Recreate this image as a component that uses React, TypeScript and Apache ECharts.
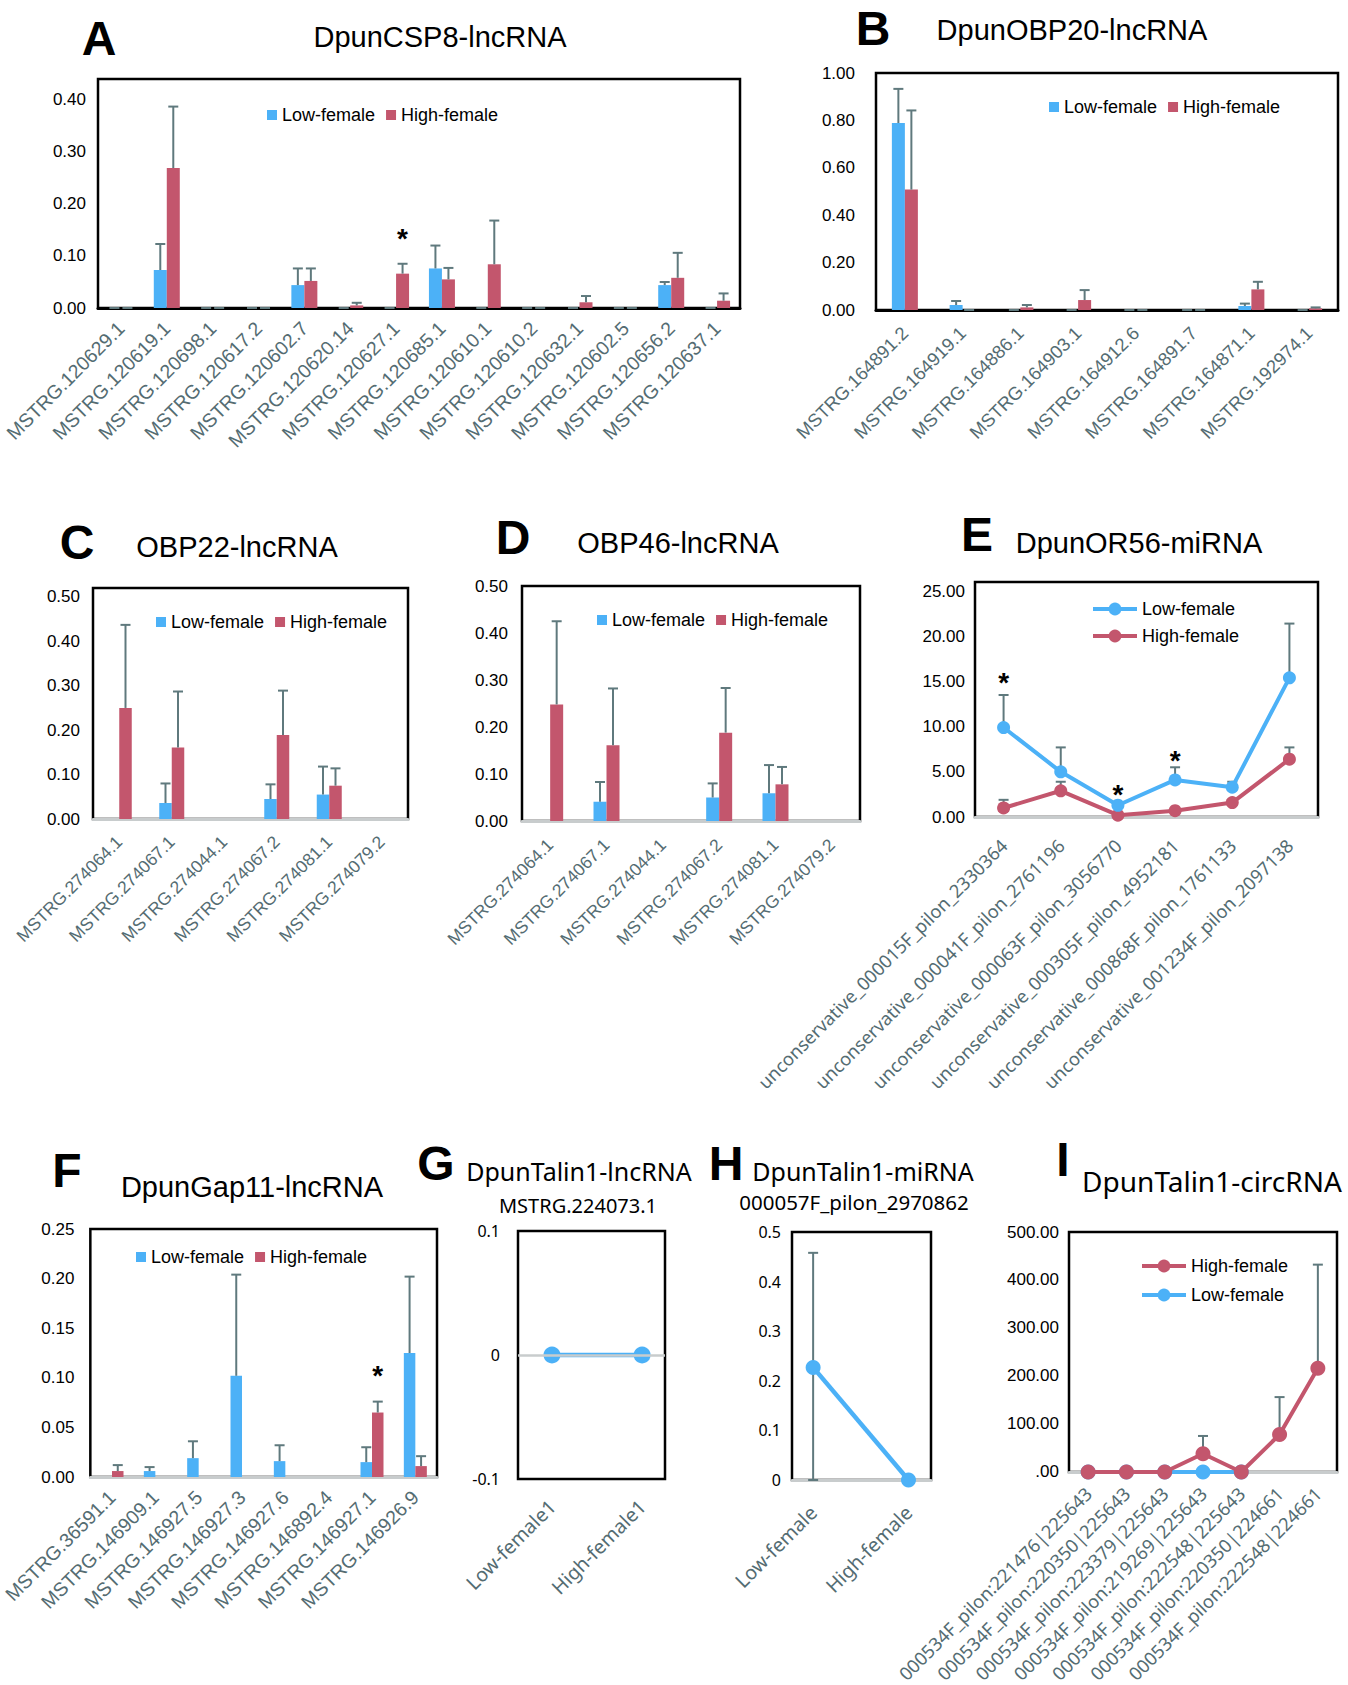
import React, { useEffect, useRef } from "react";
import * as echarts from "echarts";

// ---------------- data ----------------
// A  DpunCSP8-lncRNA
const aCategories = [
  "MSTRG.120629.1", "MSTRG.120619.1", "MSTRG.120698.1", "MSTRG.120617.2", "MSTRG.120602.7",
  "MSTRG.120620.14", "MSTRG.120627.1", "MSTRG.120685.1", "MSTRG.120610.1", "MSTRG.120610.2",
  "MSTRG.120632.1", "MSTRG.120602.5", "MSTRG.120656.2", "MSTRG.120637.1",
];
const aLow = [0, 0.073, 0, 0, 0.044, 0, 0, 0.076, 0, 0, 0, 0, 0.044, 0];
const aLowErr = [0, 0.05, 0, 0, 0.032, 0, 0, 0.044, 0, 0, 0, 0, 0.006, 0];
const aHigh = [0, 0.269, 0, 0, 0.052, 0.005, 0.066, 0.055, 0.084, 0, 0.011, 0, 0.058, 0.014];
const aHighErr = [0, 0.118, 0, 0, 0.024, 0.005, 0.019, 0.022, 0.084, 0, 0.012, 0, 0.048, 0.014];
const aStars = [[6, 0.145, 1]];

// B  DpunOBP20-lncRNA
const bCategories = [
  "MSTRG.164891.2", "MSTRG.164919.1", "MSTRG.164886.1", "MSTRG.164903.1",
  "MSTRG.164912.6", "MSTRG.164891.7", "MSTRG.164871.1", "MSTRG.192974.1",
];
const bLow = [0.789, 0.021, 0, 0, 0, 0, 0.017, 0];
const bLowErr = [0.144, 0.017, 0, 0, 0, 0, 0.01, 0];
const bHigh = [0.508, 0, 0.011, 0.042, 0, 0, 0.087, 0.007];
const bHighErr = [0.334, 0, 0.01, 0.042, 0, 0, 0.032, 0.004];

// C  OBP22-lncRNA
const cCategories = [
  "MSTRG.274064.1", "MSTRG.274067.1", "MSTRG.274044.1",
  "MSTRG.274067.2", "MSTRG.274081.1", "MSTRG.274079.2",
];
const cLow = [0, 0.036, 0, 0.045, 0.055, 0];
const cLowErr = [0, 0.044, 0, 0.033, 0.063, 0];
const cHigh = [0.25, 0.161, 0, 0.189, 0.075, 0];
const cHighErr = [0.187, 0.126, 0, 0.1, 0.039, 0];

// D  OBP46-lncRNA
const dCategories = [
  "MSTRG.274064.1", "MSTRG.274067.1", "MSTRG.274044.1",
  "MSTRG.274067.2", "MSTRG.274081.1", "MSTRG.274079.2",
];
const dLow = [0, 0.041, 0, 0.05, 0.059, 0];
const dLowErr = [0, 0.042, 0, 0.03, 0.06, 0];
const dHigh = [0.248, 0.161, 0, 0.188, 0.078, 0];
const dHighErr = [0.177, 0.121, 0, 0.095, 0.037, 0];

// E  DpunOR56-miRNA
const eCategories = [
  "unconservative_000015F_pilon_2330364",
  "unconservative_000041F_pilon_2761196",
  "unconservative_000063F_pilon_3056770",
  "unconservative_000305F_pilon_4952181",
  "unconservative_000868F_pilon_1761133",
  "unconservative_001234F_pilon_2097138",
];
const eLow = [9.9, 5.0, 1.3, 4.1, 3.3, 15.4];
const eLowErr = [3.6, 2.7, 0, 1.4, 0.6, 6.0];
const eHigh = [1.0, 2.9, 0.2, 0.7, 1.6, 6.4];
const eHighErr = [0.9, 1.0, 0, 0, 0, 1.3];
const eStars = [[0, 15.6, 0], [2, 3.2, 0], [3, 6.9, 0]];

// F  DpunGap11-lncRNA
const fCategories = [
  "MSTRG.36591.1", "MSTRG.146909.1", "MSTRG.146927.5", "MSTRG.146927.3",
  "MSTRG.146927.6", "MSTRG.146892.4", "MSTRG.146927.1", "MSTRG.146926.9",
];
const fLow = [0, 0.006, 0.019, 0.102, 0.016, 0, 0.015, 0.125];
const fLowErr = [0, 0.004, 0.017, 0.102, 0.016, 0, 0.015, 0.077];
const fHigh = [0.006, 0, 0, 0, 0, 0, 0.065, 0.011];
const fHighErr = [0.006, 0, 0, 0, 0, 0, 0.011, 0.01];
const fStars = [[6, 0.108, 1]];

// G  DpunTalin1-lncRNA  MSTRG.224073.1
const gCategories = ["Low-female1", "High-female1"];
const gLow = [0, 0];

// H  DpunTalin1-miRNA  000057F_pilon_2970862
const hCategories = ["Low-female", "High-female"];
const hLow = [0.227, 0];
const hLowErr = [0.231, 0];

// I  DpunTalin1-circRNA
const iCategories = [
  "000534F_pilon:221476|225643", "000534F_pilon:220350|225643", "000534F_pilon:223379|225643",
  "000534F_pilon:219269|225643", "000534F_pilon:222548|225643", "000534F_pilon:220350|224661",
  "000534F_pilon:222548|224661",
];
const iHigh = [0, 0, 0, 38, 0, 78, 216];
const iHighErr = [0, 0, 0, 37, 0, 78, 216];
const iLow = [0, 0, 0, 0, 0, null, null];

// ---------------- style ----------------
const BLUE = "#4cb1f7";
const RED = "#c3566d";
const ERR = "#5f797d";
const LABEL = "#546c72";
const AXISGRAY = "#c8cccd";
const ARIAL = "'Liberation Sans', Arial, sans-serif";
const NOTO = "'Noto Sans', sans-serif";

const isStep = (v: number, s: number) => Math.abs(v / s - Math.round(v / s)) < 1e-6;

function gridOf(b: number[]) {
  return {
    left: b[0], top: b[1], width: b[2] - b[0], height: b[3] - b[1],
    show: true, borderColor: "#000", borderWidth: 2.5, backgroundColor: "rgba(0,0,0,0)",
  };
}

function yAxisOf(gi: number, min: number, max: number, step: number, fmt: any, margin: number, font: string, size: number) {
  return {
    gridIndex: gi, type: "value", min, max, interval: step,
    axisLine: { show: false, onZero: false }, axisTick: { show: false }, splitLine: { show: false },
    axisLabel: { margin, fontSize: size, fontFamily: font, color: "#000", formatter: fmt },
  };
}

function errSeries(gi: number, data: any[], shift: number, cap: number, z: number) {
  return {
    type: "custom", xAxisIndex: gi, yAxisIndex: gi, silent: true, z, clip: false, data,
    renderItem: (_p: any, api: any) => {
      const x = api.value(0), v = api.value(1), up = api.value(2), dn = api.value(3);
      const p = api.coord([x, v]);
      const pu = api.coord([x, v + up]);
      const pd = api.coord([x, v - dn]);
      const cx = p[0] + shift;
      const st = { stroke: ERR, lineWidth: 2 };
      const ch: any[] = [
        { type: "line", shape: { x1: cx, y1: pd[1], x2: cx, y2: pu[1] }, style: st },
        { type: "line", shape: { x1: cx - cap / 2, y1: pu[1], x2: cx + cap / 2, y2: pu[1] }, style: st },
      ];
      if (dn > 0) ch.push({ type: "line", shape: { x1: cx - cap / 2, y1: pd[1], x2: cx + cap / 2, y2: pd[1] }, style: st });
      return { type: "group", children: ch };
    },
  };
}

function starSeries(gi: number, data: any[], half: number) {
  return {
    type: "custom", xAxisIndex: gi, yAxisIndex: gi, silent: true, z: 6, clip: false, data,
    renderItem: (_p: any, api: any) => {
      const p = api.coord([api.value(0), api.value(1)]);
      return {
        type: "text", x: p[0] + api.value(2) * half, y: p[1] + 6,
        style: { text: "*", fontSize: 28, fontWeight: "bold", fontFamily: ARIAL, fill: "#000", align: "center", verticalAlign: "middle" },
      };
    },
  };
}

function buildOption() {
  const o: any = { animation: false, grid: [], xAxis: [], yAxis: [], series: [], legend: [], graphic: [] };

  const barPanel = (p: any) => {
    const gi = o.grid.length;
    o.grid.push(gridOf(p.box));
    o.xAxis.push({
      gridIndex: gi, type: "category", data: p.cats, boundaryGap: true,
      axisTick: { show: false },
      axisLine: { onZero: false, lineStyle: { color: p.baseColor, width: 3 } },
      axisLabel: { interval: 0, rotate: 45, fontSize: p.xSize, fontFamily: ARIAL, color: LABEL, margin: p.xMargin },
    });
    o.yAxis.push(yAxisOf(gi, 0, p.yMax, p.yStep, p.yFmt, p.yMargin, ARIAL, 17));
    const lowName = "Low-female|" + p.key, highName = "High-female|" + p.key;
    const keep = (d: number[]) => p.zeroCaps || d[2] > 0;
    o.series.push({ type: "bar", name: lowName, xAxisIndex: gi, yAxisIndex: gi, data: p.low, barWidth: p.bw, barGap: "0%", itemStyle: { color: BLUE }, z: 2 });
    o.series.push({ type: "bar", name: highName, xAxisIndex: gi, yAxisIndex: gi, data: p.high, barWidth: p.bw, barGap: "0%", itemStyle: { color: RED }, z: 2 });
    o.series.push(errSeries(gi, p.low.map((v: number, i: number) => [i, v, p.lowErr[i], 0]).filter(keep), -p.bw / 2, 10, 4));
    o.series.push(errSeries(gi, p.high.map((v: number, i: number) => [i, v, p.highErr[i], 0]).filter(keep), p.bw / 2, 10, 4));
    if (p.stars) o.series.push(starSeries(gi, p.stars, p.bw / 2));
    o.legend.push({
      left: p.legend[0], top: p.legend[1] - 10, orient: "horizontal", padding: 0, selectedMode: false,
      itemWidth: 10, itemHeight: 10, itemGap: 11, icon: "rect", data: [lowName, highName],
      formatter: (n: string) => n.split("|")[0],
      textStyle: { fontSize: 18, fontFamily: ARIAL, color: "#000" },
    });
  };

  const lineLegend = (left: number, top: number, names: string[], gap: number) => ({
    left, top, orient: "vertical", padding: 0, selectedMode: false, itemWidth: 44, itemHeight: 16, itemGap: gap,
    lineStyle: { width: 4 }, data: names, formatter: (n: string) => n.split("|")[0],
    textStyle: { fontSize: 18, fontFamily: ARIAL, color: "#000" },
  });

  const f2 = (step: number) => (v: number) => (isStep(v, step) ? v.toFixed(2) : "");

  barPanel({ key: "A", box: [98, 79, 740, 308], cats: aCategories, low: aLow, lowErr: aLowErr, high: aHigh, highErr: aHighErr,
    yMax: 0.44, yStep: 0.1, yFmt: f2(0.1), yMargin: 12, bw: 13, xSize: 19.5, xMargin: 17, baseColor: "#000", legend: [267, 116], stars: aStars, zeroCaps: true });
  barPanel({ key: "B", box: [876, 73, 1338, 310], cats: bCategories, low: bLow, lowErr: bLowErr, high: bHigh, highErr: bHighErr,
    yMax: 1.0, yStep: 0.2, yFmt: f2(0.2), yMargin: 21, bw: 13, xSize: 18.5, xMargin: 20, baseColor: "#000", legend: [1049, 108], zeroCaps: true });
  barPanel({ key: "C", box: [93, 588, 408, 819], cats: cCategories, low: cLow, lowErr: cLowErr, high: cHigh, highErr: cHighErr,
    yMax: 0.52, yStep: 0.1, yFmt: f2(0.1), yMargin: 13, bw: 12.5, xSize: 17.5, xMargin: 20, baseColor: AXISGRAY, legend: [156, 623] });
  barPanel({ key: "D", box: [522, 586, 860, 821], cats: dCategories, low: dLow, lowErr: dLowErr, high: dHigh, highErr: dHighErr,
    yMax: 0.5, yStep: 0.1, yFmt: f2(0.1), yMargin: 14, bw: 13, xSize: 17.5, xMargin: 21, baseColor: AXISGRAY, legend: [597, 621] });
  barPanel({ key: "F", box: [80, 1229, 437, 1477], cats: fCategories, low: fLow, lowErr: fLowErr, high: fHigh, highErr: fHighErr,
    yMax: 0.25, yStep: 0.05, yFmt: f2(0.05), yMargin: 16, bw: 11.5, xSize: 19.5, xMargin: 17, baseColor: AXISGRAY, legend: [136, 1258], stars: fStars });

  // ---- E: line chart ----
  {
    const gi = o.grid.length;
    o.grid.push(gridOf([975, 582, 1318, 817]));
    o.xAxis.push({
      gridIndex: gi, type: "category", data: eCategories, boundaryGap: true, axisTick: { show: false },
      axisLine: { onZero: false, lineStyle: { color: AXISGRAY, width: 3 } },
      axisLabel: { interval: 0, rotate: 45, fontSize: 18.3, fontFamily: NOTO, color: LABEL, margin: 25 },
    });
    o.yAxis.push(yAxisOf(gi, 0, 26, 5, f2(5), 10, ARIAL, 17));
    const ln = "Low-female|E", hn = "High-female|E";
    o.series.push(errSeries(gi, eLow.map((v, i) => [i, v, eLowErr[i], 0]).filter((d) => d[2] > 0), 0, 10, 1));
    o.series.push(errSeries(gi, eHigh.map((v, i) => [i, v, eHighErr[i], 0]).filter((d) => d[2] > 0), 0, 10, 1));
    o.series.push({ type: "line", name: hn, xAxisIndex: gi, yAxisIndex: gi, data: eHigh, symbol: "circle", symbolSize: 13,
      lineStyle: { width: 4, color: RED }, itemStyle: { color: RED }, z: 3 });
    o.series.push({ type: "line", name: ln, xAxisIndex: gi, yAxisIndex: gi, data: eLow, symbol: "circle", symbolSize: 13,
      lineStyle: { width: 4, color: BLUE }, itemStyle: { color: BLUE }, z: 3 });
    o.series.push(starSeries(gi, eStars, 0));
    o.legend.push(lineLegend(1091, 600, [ln, hn], 9));
  }

  // ---- G ----
  {
    const gi = o.grid.length;
    o.grid.push(gridOf([518, 1231, 665, 1479]));
    o.xAxis.push({
      gridIndex: gi, type: "value", min: -0.377, max: 1.254, axisTick: { show: false }, splitLine: { show: false },
      axisLine: { show: false, onZero: false },
      axisLabel: { customValues: [0, 1], formatter: (v: number) => gCategories[Math.round(v)] ?? "", rotate: 45,
        fontSize: 19.5, fontFamily: NOTO, color: LABEL, margin: 24 },
    });
    o.yAxis.push(yAxisOf(gi, -0.1, 0.1, 0.1, (v: number) => String(Math.round(v * 10) / 10), 18, NOTO, 16));
    o.series.push({
      type: "line", name: "Low-female|G", xAxisIndex: gi, yAxisIndex: gi, data: gLow.map((v, i) => [i, v]),
      symbol: "circle", symbolSize: 17, lineStyle: { width: 4.5, color: BLUE }, itemStyle: { color: BLUE }, z: 3,
      markLine: { silent: true, symbol: "none", label: { show: false }, lineStyle: { color: AXISGRAY, width: 2.5, type: "solid" }, data: [{ yAxis: 0 }] },
    });
  }

  // ---- H ----
  {
    const gi = o.grid.length;
    o.grid.push(gridOf([792, 1232, 931, 1480]));
    o.xAxis.push({
      gridIndex: gi, type: "value", min: -0.2216, max: 1.236, axisTick: { show: false }, splitLine: { show: false },
      axisLine: { show: true, onZero: false, lineStyle: { color: AXISGRAY, width: 3 } },
      axisLabel: { customValues: [0, 1], formatter: (v: number) => hCategories[Math.round(v)] ?? "", rotate: 45,
        fontSize: 19.5, fontFamily: NOTO, color: LABEL, margin: 29 },
    });
    o.yAxis.push(yAxisOf(gi, 0, 0.5, 0.1, (v: number) => String(Math.round(v * 10) / 10), 11, NOTO, 16));
    o.series.push(errSeries(gi, hLow.map((v, i) => [i, v, hLowErr[i], v]).filter((d) => d[2] > 0), 0, 10, 1));
    o.series.push({
      type: "line", name: "Low-female|H", xAxisIndex: gi, yAxisIndex: gi, data: hLow.map((v, i) => [i, v]),
      symbol: "circle", symbolSize: 15, lineStyle: { width: 4.5, color: BLUE }, itemStyle: { color: BLUE }, z: 3,
    });
  }

  // ---- I ----
  {
    const gi = o.grid.length;
    o.grid.push(gridOf([1069, 1232, 1337, 1479]));
    o.xAxis.push({
      gridIndex: gi, type: "category", data: iCategories, boundaryGap: true, axisTick: { show: false },
      axisLine: { onZero: false, lineStyle: { color: AXISGRAY, width: 3 } },
      axisLabel: { interval: 0, rotate: 45, fontSize: 18.3, fontFamily: NOTO, color: LABEL, margin: 18 },
    });
    o.yAxis.push(yAxisOf(gi, 0, 500, 100, (v: number) => (v === 0 ? ".00" : v.toFixed(2)), 10, ARIAL, 17));
    const ln = "Low-female|I", hn = "High-female|I";
    o.series.push(errSeries(gi, iHigh.map((v, i) => [i, v, iHighErr[i], 0]).filter((d) => d[2] > 0), 0, 10, 1));
    o.series.push({ type: "line", name: ln, xAxisIndex: gi, yAxisIndex: gi, data: iLow, symbol: "circle", symbolSize: 15,
      lineStyle: { width: 4, color: BLUE }, itemStyle: { color: BLUE }, z: 2 });
    o.series.push({ type: "line", name: hn, xAxisIndex: gi, yAxisIndex: gi, data: iHigh, symbol: "circle", symbolSize: 15,
      lineStyle: { width: 4, color: RED }, itemStyle: { color: RED }, z: 3 });
    o.legend.push(lineLegend(1140, 1257, [hn, ln], 11));
  }

  // ---- letters and titles ----
  const txt = (text: string, x: number, y: number, size: number, font: string, bold = false) => ({
    type: "text", x, y, silent: true,
    style: { text, fontSize: size, fontFamily: font, fontWeight: bold ? "bold" : "normal", fill: "#000", align: "center", verticalAlign: "middle" },
  });
  o.graphic = [
    txt("A", 99, 38, 48, ARIAL, true), txt("DpunCSP8-lncRNA", 440, 37, 29, ARIAL),
    txt("B", 873, 28, 48, ARIAL, true), txt("DpunOBP20-lncRNA", 1072, 30, 29, ARIAL),
    txt("C", 77, 542, 48, ARIAL, true), txt("OBP22-lncRNA", 237, 547, 29, ARIAL),
    txt("D", 513, 537, 48, ARIAL, true), txt("OBP46-lncRNA", 678, 543, 29, ARIAL),
    txt("E", 977, 534, 48, ARIAL, true), txt("DpunOR56-miRNA", 1139, 543, 29, ARIAL),
    txt("F", 67, 1170, 48, ARIAL, true), txt("DpunGap11-lncRNA", 252, 1187, 29, ARIAL),
    txt("G", 436, 1163, 48, ARIAL, true), txt("DpunTalin1-lncRNA", 579, 1171, 25, NOTO),
    txt("MSTRG.224073.1", 578, 1205, 20, NOTO),
    txt("H", 726, 1163, 48, ARIAL, true), txt("DpunTalin1-miRNA", 863, 1171, 25, NOTO),
    txt("000057F_pilon_2970862", 854, 1202, 20.5, NOTO),
    txt("I", 1063, 1159, 48, ARIAL, true), txt("DpunTalin1-circRNA", 1212, 1181, 28, NOTO),
  ];
  return o;
}

export default function App() {
  const ref = useRef<HTMLDivElement>(null);
  useEffect(() => {
    document.body.style.margin = "0";
    const chart = echarts.init(ref.current as HTMLDivElement, undefined, { renderer: "svg" });
    chart.setOption(buildOption());
    return () => chart.dispose();
  }, []);
  return <div ref={ref} style={{ width: 1348, height: 1685, background: "#fff" }} />;
}
